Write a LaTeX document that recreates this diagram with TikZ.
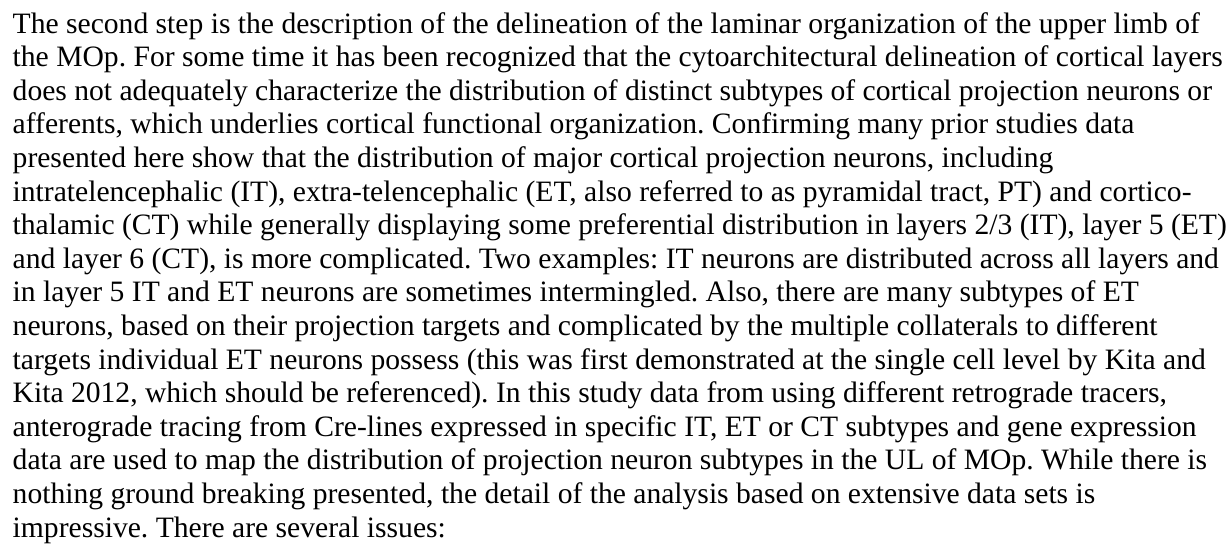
\documentclass[tikz,border=0pt]{standalone}
\usepackage{fontspec}
\setmainfont{Liberation Serif}
\frenchspacing
\begin{document}
\begin{tikzpicture}[x=1pt,y=1pt,
  txtline/.style={anchor=base west,inner sep=0pt,outer sep=0pt,font=\fontsize{29.6}{33.6}\selectfont}]
\useasboundingbox (0,0) rectangle (1227,-544);
\def\lx{12.7}
\node[txtline] (l1)  at (\lx,-33.0)  {The second step is the description of the delineation of the laminar organization of the upper limb of};
\node[txtline] (l2)  at (\lx,-66.6)  {the MOp. For some time it has been recognized that the cytoarchitectural delineation of cortical layers};
\node[txtline] (l3)  at (\lx,-100.2) {does not adequately characterize the distribution of distinct subtypes of cortical projection neurons or};
\node[txtline] (l4)  at (\lx,-133.8) {afferents, which underlies cortical functional organization. Confirming many prior studies data};
\node[txtline] (l5)  at (\lx,-167.4) {presented here show that the distribution of major cortical projection neurons, including};
\node[txtline] (l6)  at (\lx,-201.0) {intratelencephalic (IT), extra-telencephalic (ET, also referred to as pyramidal tract, PT) and cortico-};
\node[txtline] (l7)  at (\lx,-234.6) {thalamic (CT) while generally displaying some preferential distribution in layers 2/3 (IT), layer 5 (ET)};
\node[txtline] (l8)  at (\lx,-268.2) {and layer 6 (CT), is more complicated. Two examples: IT neurons are distributed across all layers and};
\node[txtline] (l9)  at (\lx,-301.8) {in layer 5 IT and ET neurons are sometimes intermingled. Also, there are many subtypes of ET};
\node[txtline] (l10) at (\lx,-335.4) {neurons, based on their projection targets and complicated by the multiple collaterals to different};
\node[txtline] (l11) at (\lx,-369.0) {targets individual ET neurons possess (this was first demonstrated at the single cell level by Kita and};
\node[txtline] (l12) at (\lx,-402.6) {Kita 2012, which should be referenced). In this study data from using different retrograde tracers,};
\node[txtline] (l13) at (\lx,-436.2) {anterograde tracing from Cre-lines expressed in specific IT, ET or CT subtypes and gene expression};
\node[txtline] (l14) at (\lx,-469.8) {data are used to map the distribution of projection neuron subtypes in the UL of MOp. While there is};
\node[txtline] (l15) at (\lx,-503.4) {nothing ground breaking presented, the detail of the analysis based on extensive data sets is};
\node[txtline] (l16) at (\lx,-537.0) {impressive. There are several issues:};
\end{tikzpicture}
\end{document}
